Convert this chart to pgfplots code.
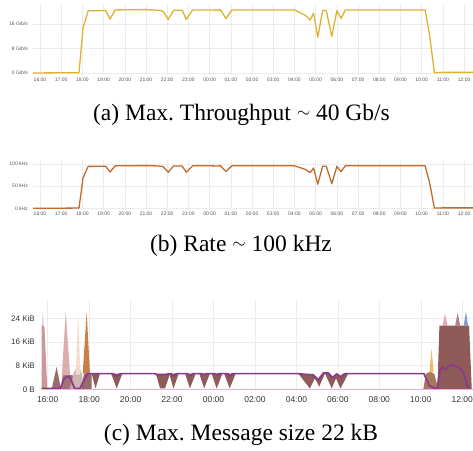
\documentclass[border=0pt]{standalone}
\usepackage{pgfplots}
\pgfplotsset{compat=1.18}
\usepackage{fontspec}
\setmainfont{Liberation Serif}
\newfontfamily\tickfont{Liberation Sans}
\definecolor{gridgray}{HTML}{ECECEC}
\definecolor{ticktext}{HTML}{555555}
\definecolor{ticktextc}{HTML}{333333}
\definecolor{lineA}{HTML}{DDB233}
\definecolor{lineB}{HTML}{C06A2C}
\definecolor{yellowzero}{HTML}{F2C46A}
\definecolor{purpleline}{HTML}{8A3A8E}
\definecolor{brownfill}{HTML}{8E5B58}
\definecolor{lavender}{HTML}{E6C4E6}
\definecolor{salmon}{HTML}{C98C8C}
\definecolor{rosy}{HTML}{D9A5A5}
\definecolor{peach}{HTML}{F3DCCB}
\definecolor{graybrown}{HTML}{C9ACAA}
\definecolor{orangespike}{HTML}{C27234}
\definecolor{pinkspike}{HTML}{E5A7AD}
\definecolor{mauve}{HTML}{A77D85}
\definecolor{bluespike}{HTML}{7C95C8}
\definecolor{yellowspike}{HTML}{E9B45E}
\definecolor{brownorange}{HTML}{A0694A}
\newcommand{\smallsim}{\raisebox{2.6pt}{\fontsize{17}{20}\selectfont$\sim$}}
\pgfplotsset{grafana/.style={
  scale only axis, anchor=south west,
  axis line style={draw=none},
  major tick length=0pt,
  grid=major, grid style={draw=gridgray, line width=0.5pt},
  yticklabel style={anchor=east, inner sep=0pt},
  xticklabel style={anchor=north, inner sep=0pt},
}}
\begin{document}
\begin{tikzpicture}
\path[use as bounding box] (0,0) rectangle (473pt,450pt);
% ---------------- (a) ----------------
\begin{axis}[grafana, at={(33pt,375.2pt)}, width=440pt, height=70.7pt,
  xmin=15.67, xmax=36.42, ymin=-0.6, ymax=22.5,
  xtick={16,...,36},
  xticklabels={16:00,17:00,18:00,19:00,20:00,21:00,22:00,23:00,00:00,01:00,02:00,03:00,04:00,05:00,06:00,07:00,08:00,09:00,10:00,11:00,12:00},
  ytick={0,8,16}, yticklabels={0 Gib/s,8 Gib/s,16 Gib/s},
  tick label style={font=\tickfont\fontsize{5}{6}\selectfont, text=ticktext},
  yticklabel style={xshift=-5pt}, xticklabel style={yshift=-3pt}]
\addplot[lineA, line width=1.3pt, line join=round] table {
15.67 0.0
17.00 0.05
17.84 0.1
18.03 14.7
18.27 20.3
19.10 20.4
19.30 17.6
19.55 20.6
21.00 20.7
21.60 20.5
21.80 20.2
22.05 17.5
22.30 20.5
22.70 20.5
22.90 17.5
23.20 20.6
24.00 20.6
24.40 20.5
24.50 20.7
24.77 17.8
25.05 20.6
28.00 20.6
28.50 18.9
28.74 17.3
28.90 19.5
29.10 11.7
29.33 20.4
29.50 20.4
29.76 11.9
30.00 20.3
30.20 17.8
30.40 20.6
34.16 20.6
34.36 13.0
34.60 0.1
35.00 0.2
36.42 0.2
};
\end{axis}
% ---------------- (b) ----------------
\begin{axis}[grafana, at={(33pt,240.4pt)}, width=440pt, height=50.9pt,
  xmin=15.67, xmax=36.42, ymin=-3, ymax=112,
  xtick={16,...,36},
  xticklabels={16:00,17:00,18:00,19:00,20:00,21:00,22:00,23:00,00:00,01:00,02:00,03:00,04:00,05:00,06:00,07:00,08:00,09:00,10:00,11:00,12:00},
  ytick={0,50,100}, yticklabels={0 kHz,50 kHz,100 kHz},
  tick label style={font=\tickfont\fontsize{5}{6}\selectfont, text=ticktext},
  yticklabel style={xshift=-5pt}, xticklabel style={yshift=-1.8pt}]
\addplot[lineB, line width=1.3pt, line join=round] table {
15.67 0.0
17.00 0.2
17.84 0.5
18.03 68.5
18.27 94.6
19.10 95.0
19.30 82.0
19.55 96.0
21.00 96.4
21.60 95.5
21.80 94.1
22.05 81.5
22.30 95.5
22.70 95.5
22.90 81.5
23.20 96.0
24.00 96.0
24.40 95.5
24.50 96.4
24.77 83.0
25.05 96.0
28.00 96.0
28.50 88.0
28.74 80.6
28.90 90.9
29.10 54.5
29.33 95.0
29.50 95.0
29.76 55.4
30.00 94.6
30.20 83.0
30.40 96.0
34.16 96.0
34.36 60.6
34.60 0.5
35.00 0.9
36.42 0.9
};
\end{axis}
% ---------------- (c) ----------------
\begin{axis}[grafana, at={(41.7pt,58.9pt)}, width=431.3pt, height=90.65pt,
  xmin=15.71, xmax=36.52, ymin=-0.6, ymax=30,
  xtick={16,18,...,36},
  xticklabels={16:00,18:00,20:00,22:00,00:00,02:00,04:00,06:00,08:00,10:00,12:00},
  ytick={0,8,16,24}, yticklabels={0 B,8 KiB,16 KiB,24 KiB},
  tick label style={font=\tickfont\fontsize{8.5}{10}\selectfont, text=ticktextc},
  yticklabel style={xshift=-6.7pt, font=\tickfont\fontsize{8}{10}\selectfont}, xticklabel style={yshift=-5pt}]
% start region
\addplot[draw=none, fill=lavender, fill opacity=0.9] coordinates {(15.71,21.5) (15.76,26.2) (15.81,21.5)} -- cycle;
\addplot[draw=none, fill=salmon, fill opacity=0.9] coordinates {(15.71,0) (15.71,21.5) (15.84,21.5) (15.98,0)} -- cycle;
\addplot[draw=none, fill=brownfill, fill opacity=0.9] coordinates {(16.19,0) (16.43,7.6) (16.64,0)} -- cycle;
\addplot[draw=none, fill=brownfill, fill opacity=0.85] coordinates {(16.62,0) (16.72,4.8) (17.20,4.8) (17.32,0)} -- cycle;
\addplot[draw=none, fill=rosy, fill opacity=0.9] coordinates {(16.68,4.8) (16.87,26.2) (17.08,4.8)} -- cycle;
\addplot[draw=none, fill=graybrown, fill opacity=0.9] coordinates {(17.05,0) (17.25,5.3) (17.45,8.4) (17.65,5.3) (17.75,0)} -- cycle;
\addplot[draw=none, fill=peach, fill opacity=0.95] coordinates {(17.35,5.0) (17.47,25.6) (17.58,5.0)} -- cycle;
\addplot[draw=none, fill=brownfill, fill opacity=0.9] coordinates {(17.62,0) (17.75,5.3) (18.12,5.3) (18.12,0)} -- cycle;
\addplot[draw=none, fill=orangespike, fill opacity=0.9] coordinates {(17.69,5.3) (17.88,26.2) (18.04,5.3)} -- cycle;
% dips
\addplot[draw=none, fill=brownfill] coordinates {(18.12,5.3) (18.31,0.3) (18.52,5.3)} -- cycle;
\addplot[draw=none, fill=brownfill] coordinates {(19.06,5.3) (19.33,0.3) (19.60,5.3)} -- cycle;
\addplot[draw=none, fill=brownfill] coordinates {(21.22,5.3) (21.42,0.3) (21.66,0.3) (21.90,5.3)} -- cycle;
\addplot[draw=none, fill=brownfill] coordinates {(21.86,5.3) (22.07,0.3) (22.32,5.3)} -- cycle;
\addplot[draw=none, fill=brownfill] coordinates {(22.63,5.3) (22.86,0.3) (23.14,5.3)} -- cycle;
\addplot[draw=none, fill=brownfill] coordinates {(23.31,5.3) (23.55,0.3) (23.82,5.3)} -- cycle;
\addplot[draw=none, fill=brownfill] coordinates {(23.91,5.3) (24.15,0.3) (24.43,5.3)} -- cycle;
\addplot[draw=none, fill=brownfill] coordinates {(24.51,5.3) (24.78,0.3) (25.07,5.3)} -- cycle;
\addplot[draw=none, fill=brownfill] coordinates {(28.09,5.3) (28.65,0.3) (28.89,3.7) (29.10,0.9) (29.38,5.4) (29.70,0.3) (29.91,3.7) (30.13,0.3) (30.50,5.3)
  (30.34,5.3) (30.13,4.3) (29.94,5.2) (29.75,4.0) (29.54,5.5) (29.30,5.5) (29.05,3.2) (28.81,4.9) (28.33,5.1)} -- cycle;
% end region
\addplot[draw=none, fill=brownorange, fill opacity=0.9] coordinates {(34.12,0) (34.25,5.3) (34.45,5.9) (34.65,5.3) (34.85,0)} -- cycle;
\addplot[draw=none, fill=yellowspike, fill opacity=0.9] coordinates {(34.42,5.9) (34.52,13.8) (34.62,5.9)} -- cycle;
\addplot[draw=none, fill=pinkspike, fill opacity=0.95] coordinates {(35.05,21.5) (35.17,25.6) (35.29,21.5)} -- cycle;
\addplot[draw=none, fill=mauve, fill opacity=0.95] coordinates {(35.66,21.5) (35.78,25.9) (35.90,21.5)} -- cycle;
\addplot[draw=none, fill=bluespike, fill opacity=0.95] coordinates {(36.07,21.5) (36.18,26.3) (36.28,21.5)} -- cycle;
\addplot[draw=none, fill=brownfill] coordinates {(34.80,0) (34.90,21.5) (36.33,21.5) (36.46,0)} -- cycle;
% purple line
\addplot[purpleline, line width=1.7pt, line join=round] table {
15.71 0.3
16.60 0.3
16.82 3.9
17.05 4.4
17.30 0.3
17.55 0.3
17.92 5.3
19.15 5.3
19.33 4.4
19.50 5.3
21.15 5.3
21.30 4.9
21.70 4.9
21.85 5.3
21.95 5.3
22.06 4.5
22.20 5.3
22.75 5.3
22.86 4.5
23.00 5.3
23.45 5.3
23.55 4.9
23.65 5.3
24.05 5.3
24.15 4.9
24.25 5.3
24.68 5.3
24.80 4.5
24.92 5.3
28.09 5.3
28.33 5.1
28.81 4.9
29.05 3.2
29.30 5.5
29.54 5.5
29.75 4.0
29.94 5.2
30.13 4.3
30.34 5.3
34.15 5.3
34.40 1.4
34.65 0.4
34.80 0.4
34.92 6.3
35.08 7.5
35.20 6.8
35.41 8.2
35.73 7.9
36.05 5.9
36.25 1.0
36.35 0.3
};
% yellow zero line
\addplot[yellowzero, line width=1.6pt] table {
15.71 0
36.52 0
};
\end{axis}
% captions
\node[anchor=base, font=\fontsize{23.5}{28}\selectfont] at (241.5pt,329.6pt) {(a) Max.\ Throughput \smallsim{} 40 Gb/s};
\node[anchor=base, font=\fontsize{23.5}{28}\selectfont] at (241pt,198.5pt) {(b) Rate \smallsim{} 100 kHz};
\node[anchor=base, font=\fontsize{23.5}{28}\selectfont] at (241pt,9.5pt) {(c) Max.\ Message size 22 kB};
\end{tikzpicture}
\end{document}
